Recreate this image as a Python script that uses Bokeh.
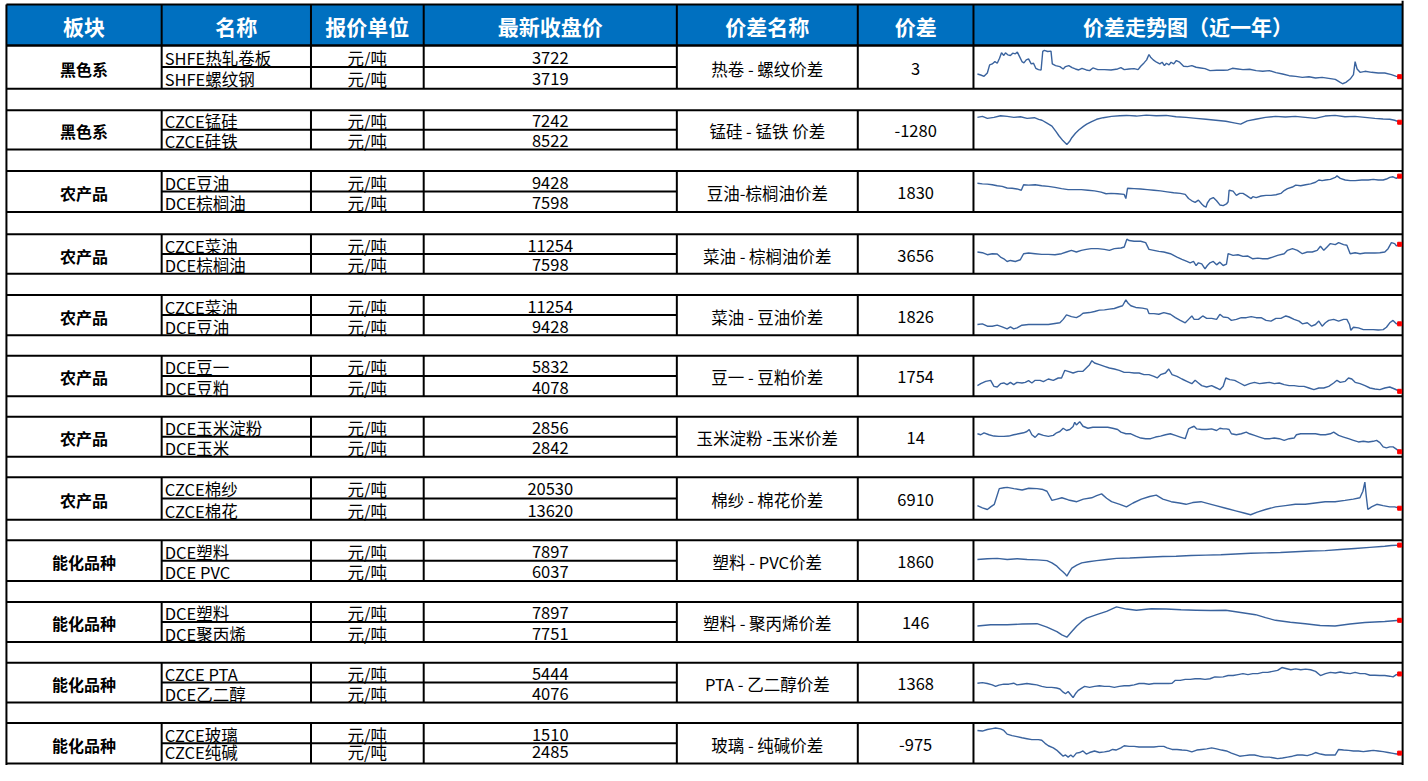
from bokeh.plotting import figure
from bokeh.models import Range1d, ColumnDataSource
from bokeh.core.properties import value
from bokeh.embed import file_html
from bokeh.resources import INLINE

# ---------------- data ----------------
headers = ["板块", "名称", "报价单位", "最新收盘价", "价差名称", "价差", "价差走势图（近一年）"]
sectors = ["黑色系", "黑色系", "农产品", "农产品", "农产品", "农产品", "农产品", "农产品",
           "能化品种", "能化品种", "能化品种", "能化品种"]
leg1_names = ["SHFE热轧卷板", "CZCE锰硅", "DCE豆油", "CZCE菜油", "CZCE菜油", "DCE豆一",
              "DCE玉米淀粉", "CZCE棉纱", "DCE塑料", "DCE塑料", "CZCE PTA", "CZCE玻璃"]
leg2_names = ["SHFE螺纹钢", "CZCE硅铁", "DCE棕榈油", "DCE棕榈油", "DCE豆油", "DCE豆粕",
              "DCE玉米", "CZCE棉花", "DCE PVC", "DCE聚丙烯", "DCE乙二醇", "CZCE纯碱"]
unit = "元/吨"
leg1_close = [3722, 7242, 9428, 11254, 11254, 5832, 2856, 20530, 7897, 7897, 5444, 1510]
leg2_close = [3719, 8522, 7598, 7598, 9428, 4078, 2842, 13620, 6037, 7751, 4076, 2485]
spread_names = ["热卷 - 螺纹价差", "锰硅 - 锰铁 价差", "豆油-棕榈油价差", "菜油 - 棕榈油价差",
                "菜油 - 豆油价差", "豆一 - 豆粕价差", "玉米淀粉 -玉米价差", "棉纱 - 棉花价差",
                "塑料 - PVC价差", "塑料 - 聚丙烯价差", "PTA - 乙二醇价差", "玻璃 - 纯碱价差"]
spreads = [3, -1280, 1830, 3656, 1826, 1754, 14, 6910, 1860, 146, 1368, -975]

# sparkline readings (time position, relative level) for each spread
trend_hc_rb = [(55,45),(65,42),(75,38),(85,48),(92,72),(100,75),(108,82),(115,77),(122,92),(128,108),(135,100),(140,108),(147,102),(155,100),(162,107),(170,105),(176,110),(182,98),(190,82),(196,78),(203,87),(210,90),(218,75),(225,77),(232,62),(240,58),(248,57),(253,112),(258,115),(268,112),(278,113),(282,75),(292,70),(305,67),(315,60),(322,67),(332,70),(342,64),(352,60),(362,57),(372,62),(385,57),(395,55),(405,63),(420,58),(440,58),(460,57),(480,60),(490,64),(500,58),(515,60),(530,61),(542,58),(550,68),(560,78),(568,87),(575,103),(580,95),(588,87),(598,80),(608,75),(615,80),(622,70),(628,77),(636,72),(642,80),(650,75),(658,85),(668,80),(680,68),(692,67),(705,70),(718,65),(732,63),(745,61),(760,55),(780,56),(800,56),(815,57),(828,62),(845,60),(860,58),(880,59),(900,55),(920,53),(940,55),(960,49),(980,45),(1000,40),(1020,38),(1040,35),(1060,37),(1080,33),(1100,35),(1120,32),(1140,29),(1155,20),(1162,16),(1172,20),(1185,30),(1195,43),(1200,82),(1206,60),(1215,50),(1230,53),(1250,50),(1270,48),(1290,48),(1310,43),(1325,38),(1335,37)]
trend_sm_sf = [(60,99),(75,102),(90,96),(110,99),(130,104),(150,102),(170,99),(190,101),(210,96),(232,98),(245,93),(255,90),(270,81),(285,72),(298,54),(306,42),(318,27),(330,15),(338,24),(345,36),(356,50),(366,60),(380,71),(390,78),(405,86),(420,93),(440,98),(465,102),(490,104),(510,105),(540,103),(570,106),(600,104),(630,105),(660,101),(690,99),(720,96),(750,93),(780,90),(810,87),(835,82),(855,78),(875,88),(900,93),(930,99),(960,102),(990,100),(1020,102),(1050,99),(1080,96),(1110,103),(1140,105),(1170,101),(1200,102),(1230,99),(1260,96),(1285,94),(1305,93),(1320,90),(1335,84)]
trend_y_p = [(55,90),(70,88),(85,87),(100,85),(115,82),(130,80),(145,75),(160,74),(175,72),(188,68),(195,85),(210,84),(230,85),(250,82),(270,80),(290,77),(310,73),(330,70),(350,70),(370,70),(390,68),(410,66),(430,62),(445,57),(460,58),(480,57),(500,55),(505,42),(510,74),(530,73),(550,72),(570,70),(590,68),(610,66),(630,63),(650,60),(670,58),(685,55),(695,42),(705,35),(715,30),(725,37),(735,25),(742,18),(748,15),(752,28),(760,40),(770,45),(780,35),(790,22),(800,20),(810,25),(815,32),(818,68),(830,65),(840,52),(850,58),(860,58),(870,52),(880,45),(885,42),(890,48),(900,45),(915,50),(930,52),(945,52),(960,54),(975,58),(985,67),(995,73),(1010,78),(1020,84),(1035,82),(1050,85),(1065,88),(1080,93),(1090,100),(1100,98),(1110,100),(1125,102),(1140,108),(1145,113),(1155,105),(1170,100),(1185,98),(1200,98),(1220,100),(1240,100),(1255,102),(1270,100),(1285,100),(1295,103),(1305,108),(1315,110),(1325,105),(1335,112)]
trend_oi_p = [(55,70),(70,68),(85,62),(100,65),(115,64),(125,55),(135,50),(145,42),(155,45),(170,42),(185,47),(195,65),(210,67),(230,65),(250,63),(270,63),(290,62),(310,65),(325,70),(340,75),(355,70),(370,75),(385,78),(400,80),(420,80),(440,78),(455,75),(470,80),(490,82),(500,85),(508,108),(515,104),(530,102),(550,102),(565,98),(575,78),(590,75),(605,72),(620,70),(640,65),(660,55),(675,48),(690,42),(700,38),(710,42),(718,30),(725,38),(735,35),(745,20),(752,30),(760,38),(770,42),(780,32),(790,40),(800,30),(810,34),(815,65),(830,60),(845,62),(860,57),(875,58),(890,50),(905,52),(920,50),(935,50),(950,55),(965,60),(985,65),(995,75),(1010,80),(1025,75),(1040,65),(1055,70),(1070,70),(1085,75),(1095,87),(1105,75),(1115,85),(1125,95),(1140,92),(1150,98),(1165,92),(1175,90),(1185,65),(1200,68),(1215,65),(1230,67),(1245,67),(1260,67),(1275,68),(1290,70),(1300,80),(1310,98),(1320,95),(1325,88),(1335,93)]
trend_oi_y = [(55,35),(70,37),(85,30),(100,30),(115,33),(130,28),(145,22),(155,28),(165,22),(175,25),(190,33),(210,35),(230,35),(250,35),(270,35),(290,38),(305,40),(315,50),(325,63),(340,58),(355,55),(365,60),(375,68),(395,70),(410,73),(425,77),(440,78),(455,80),(470,82),(485,87),(495,90),(505,107),(512,97),(520,90),(535,85),(555,83),(570,80),(575,67),(590,67),(605,65),(620,70),(640,65),(655,55),(670,47),(685,40),(695,50),(705,60),(712,50),(725,50),(738,60),(750,53),(765,53),(780,50),(790,65),(800,57),(815,55),(825,47),(840,50),(855,55),(870,55),(885,58),(900,55),(915,55),(930,47),(945,45),(960,53),(975,53),(990,60),(1000,57),(1015,50),(1030,45),(1040,37),(1055,40),(1068,30),(1080,35),(1090,45),(1100,30),(1110,40),(1120,47),(1135,50),(1150,45),(1165,50),(1175,50),(1183,35),(1187,18),(1195,27),(1210,25),(1225,20),(1240,20),(1255,20),(1270,19),(1285,20),(1295,27),(1305,40),(1315,47),(1325,37),(1335,37)]
trend_a_m = [(55,32),(65,38),(80,45),(95,48),(105,30),(115,28),(125,38),(135,40),(145,35),(155,42),(165,35),(175,42),(190,40),(200,42),(210,47),(220,40),(230,48),(245,48),(255,44),(270,52),(285,48),(300,55),(310,55),(320,78),(330,75),(345,70),(360,75),(375,75),(385,85),(395,95),(402,107),(410,100),(425,95),(440,90),(455,85),(470,82),(485,78),(500,72),(515,72),(530,70),(545,70),(560,65),(575,65),(590,60),(600,55),(610,65),(625,70),(635,82),(645,65),(660,60),(675,52),(690,45),(705,38),(715,48),(725,40),(735,32),(750,28),(765,32),(780,25),(790,20),(800,30),(808,55),(820,50),(835,48),(850,40),(865,32),(880,38),(895,42),(910,38),(925,40),(940,42),(955,38),(970,40),(985,35),(1000,32),(1015,32),(1030,30),(1045,30),(1060,25),(1075,20),(1090,25),(1105,25),(1120,30),(1135,40),(1145,48),(1155,42),(1170,45),(1180,55),(1190,52),(1200,42),(1215,38),(1230,32),(1245,25),(1260,22),(1275,20),(1290,25),(1305,28),(1320,22),(1335,15)]
trend_cs_c = [(55,75),(65,72),(75,78),(90,72),(105,68),(120,67),(135,67),(150,68),(165,72),(180,75),(195,78),(205,82),(212,88),(220,72),(230,64),(240,75),(255,70),(270,67),(285,70),(295,78),(305,82),(315,92),(325,85),(335,88),(345,97),(350,110),(355,102),(365,112),(375,98),(390,92),(405,95),(420,95),(435,95),(450,95),(465,92),(480,88),(490,80),(505,75),(520,75),(535,68),(550,62),(565,60),(580,60),(595,65),(610,68),(625,72),(640,75),(655,70),(670,65),(685,60),(690,75),(695,90),(705,95),(712,98),(720,90),(735,88),(750,88),(765,90),(780,85),(790,92),(800,90),(810,90),(818,88),(825,75),(840,72),(855,75),(870,80),(880,75),(895,70),(910,65),(925,60),(940,60),(955,62),(970,60),(985,55),(1000,60),(1015,62),(1022,72),(1035,75),(1050,75),(1065,75),(1080,75),(1095,72),(1110,72),(1125,75),(1135,80),(1150,70),(1165,65),(1180,60),(1195,55),(1210,50),(1225,52),(1240,50),(1255,52),(1265,55),(1275,48),(1285,35),(1295,32),(1305,35),(1315,35),(1325,28),(1335,20)]
trend_cy_cf = [(60,57),(75,52),(90,48),(100,54),(111,60),(126,96),(140,98),(150,99),(170,96),(195,93),(215,97),(240,96),(258,94),(270,90),(285,69),(300,72),(315,75),(335,70),(360,66),(380,72),(405,75),(420,80),(435,84),(450,74),(465,66),(490,60),(510,54),(530,63),(555,72),(580,78),(600,81),(620,72),(645,66),(670,63),(690,60),(710,64),(735,66),(760,61),(780,57),(810,51),(840,45),(865,40),(885,36),(905,42),(930,48),(960,54),(990,57),(1020,60),(1050,60),(1080,63),(1110,66),(1140,66),(1170,69),(1195,72),(1215,75),(1224,90),(1230,111),(1234,80),(1239,48),(1250,54),(1266,60),(1285,57),(1305,54),(1320,54),(1335,51)]
trend_l_v = [(60,63),(90,65),(120,66),(150,63),(180,65),(210,63),(240,62),(270,60),(285,54),(300,45),(310,36),(318,30),(325,24),(330,18),(338,30),(345,40),(360,48),(375,54),(395,57),(420,60),(450,63),(480,66),(520,67),(570,69),(620,71),(660,72),(705,74),(750,75),(795,76),(840,78),(885,80),(930,81),(975,82),(1020,84),(1065,86),(1110,87),(1155,90),(1200,93),(1245,96),(1290,99),(1310,101),(1335,102)]
trend_l_pp = [(60,45),(100,48),(150,48),(195,50),(240,51),(270,42),(300,30),(315,21),(330,15),(345,30),(360,45),(375,57),(390,66),(420,75),(450,84),(480,96),(510,90),(540,87),(585,91),(630,90),(675,88),(720,87),(765,86),(810,87),(855,81),(900,75),(930,67),(960,60),(1005,55),(1050,51),(1095,46),(1140,45),(1185,50),(1230,54),(1290,57),(1335,60)]
trend_ta_eg = [(55,58),(70,60),(85,57),(100,53),(110,48),(120,52),(135,55),(150,55),(165,58),(175,53),(190,55),(205,57),(220,55),(235,53),(250,48),(265,45),(280,45),(295,43),(305,40),(315,30),(322,25),(330,32),(338,22),(345,13),(352,25),(360,35),(370,42),(380,48),(395,45),(410,48),(425,50),(440,48),(455,48),(470,45),(485,48),(500,50),(515,50),(530,53),(545,57),(560,57),(575,55),(590,57),(605,57),(620,57),(635,57),(645,58),(655,67),(670,67),(685,70),(700,70),(715,72),(730,72),(745,70),(760,72),(775,78),(790,77),(800,78),(815,82),(830,82),(845,85),(860,88),(875,85),(890,88),(905,88),(920,92),(935,92),(950,95),(965,98),(978,107),(990,104),(1005,100),(1020,103),(1035,100),(1050,102),(1065,100),(1080,95),(1095,82),(1110,88),(1125,92),(1140,90),(1155,93),(1170,90),(1185,88),(1200,92),(1215,88),(1230,88),(1245,83),(1260,83),(1275,82),(1290,82),(1305,80),(1315,78),(1325,85),(1335,87)]
trend_fg_sa = [(55,107),(70,105),(85,110),(100,113),(110,115),(125,112),(135,107),(145,95),(160,90),(175,87),(190,83),(205,80),(220,77),(240,77),(250,75),(260,65),(270,57),(285,50),(295,43),(305,33),(315,23),(322,27),(330,20),(338,27),(345,20),(355,33),(365,35),(375,40),(385,30),(395,35),(410,40),(425,35),(440,37),(455,40),(465,45),(475,43),(490,50),(500,57),(515,55),(530,55),(545,53),(560,53),(575,53),(590,53),(605,55),(620,55),(630,50),(645,45),(660,45),(675,43),(690,42),(705,37),(720,43),(735,45),(750,47),(765,50),(780,47),(795,43),(810,40),(825,33),(840,27),(850,23),(865,25),(880,27),(895,27),(910,23),(925,20),(940,20),(955,17),(965,15),(980,17),(995,20),(1010,23),(1025,27),(1040,27),(1055,25),(1070,30),(1080,35),(1095,30),(1110,27),(1125,27),(1140,27),(1150,45),(1165,43),(1180,42),(1195,40),(1210,40),(1225,38),(1240,40),(1255,42),(1270,40),(1285,38),(1300,35),(1315,32),(1325,30),(1335,33)]
trends = [trend_hc_rb, trend_sm_sf, trend_y_p, trend_oi_p, trend_oi_y, trend_a_m,
          trend_cs_c, trend_cy_cf, trend_l_v, trend_l_pp, trend_ta_eg, trend_fg_sa]

# ---------------- layout (reference pixel space) ----------------
FX0, FX1 = 0, 1428
FY0, FY1 = 781, 0
COLS = [6, 163, 314, 428, 684, 867, 984, 1418]
HEAD_TOP, HEAD_BOT = 4, 46
TOPS = [46, 112, 174, 238.7, 300.7, 362.7, 425, 486.7, 551, 614, 676, 737.7]
BOTS = [90, 152, 216, 279, 341.7, 404, 465.7, 530, 592.7, 655, 716.7, 779]
SPK_X0, SPK_X1, SPK_PAD = 988, 1415, 5
FONT = value("Noto Sans CJK SC")
LINE_BLUE = "#3A639E"

p = figure(width=1412, height=765, x_range=Range1d(FX0, FX1),
           y_range=Range1d(FY0, FY1), output_backend="svg", toolbar_location=None,
           x_axis_type=None, y_axis_type=None, min_border=0)
p.grid.visible = False
p.outline_line_color = None
p.background_fill_color = "white"
p.border_fill_color = "white"

# header band
p.quad(left=[COLS[0]], right=[COLS[-1]], top=[HEAD_TOP], bottom=[HEAD_BOT],
       fill_color="#0070C0", line_color=None)

# grid lines
x0s, y0s, x1s, y1s = [], [], [], []
def seg(a, b, c, d):
    x0s.append(a); y0s.append(b); x1s.append(c); y1s.append(d)
seg(COLS[0], HEAD_TOP, COLS[-1], HEAD_TOP)
seg(COLS[0], HEAD_BOT, COLS[-1], HEAD_BOT)
for c in COLS[1:-1]:
    seg(c, HEAD_TOP, c, HEAD_BOT)
for t, b in zip(TOPS, BOTS):
    seg(COLS[0], t, COLS[-1], t)
    seg(COLS[0], b, COLS[-1], b)
    m = (t + b) / 2
    seg(COLS[1], m, COLS[4], m)
    for c in COLS[1:-1]:
        seg(c, t, c, b)
seg(COLS[0], HEAD_TOP, COLS[0], FY0)
seg(COLS[-1], FY1, COLS[-1], FY0)
p.segment(x0=x0s, y0=y0s, x1=x1s, y1=y1s, line_color="black", line_width=2)

# header texts
centers = [(COLS[i] + COLS[i + 1]) / 2 for i in range(len(COLS) - 1)]
p.text(x=centers, y=[(HEAD_TOP + HEAD_BOT) / 2 + 1] * len(headers), text=headers,
       text_color="white", text_font=FONT, text_font_size="21px", text_font_style="bold",
       text_align="center", text_baseline="middle")

mids = [(t + b) / 2 for t, b in zip(TOPS, BOTS)]
gc = [m + 1.5 for m in mids]
r1 = [(t + m) / 2 + 1.5 for t, m in zip(TOPS, mids)]
r2 = [(m + b) / 2 + 1.5 for m, b in zip(mids, BOTS)]
r2[-1] -= 2.5   # keep the last row's text inside the picture
n = len(sectors)

p.text(x=[centers[0]] * n, y=gc, text=sectors, text_color="black", text_font=FONT,
       text_font_size="16px", text_font_style="bold", text_align="center", text_baseline="middle")
body = dict(text_color="black", text_font=FONT, text_font_size="16.5px", text_baseline="middle")
p.text(x=[COLS[1] + 3] * n, y=r1, text=leg1_names, text_align="left", **body)
p.text(x=[COLS[1] + 3] * n, y=r2, text=leg2_names, text_align="left", **body)
p.text(x=[centers[2]] * n, y=r1, text=[unit] * n, text_align="center", **body)
p.text(x=[centers[2]] * n, y=r2, text=[unit] * n, text_align="center", **body)
p.text(x=[centers[3]] * n, y=r1, text=[str(v) for v in leg1_close], text_align="center", **body)
p.text(x=[centers[3]] * n, y=r2, text=[str(v) for v in leg2_close], text_align="center", **body)
p.text(x=[centers[4]] * n, y=gc, text=spread_names, text_align="center", **body)
p.text(x=[centers[5]] * n, y=gc, text=[str(v) for v in spreads], text_align="center", **body)

# sparklines, each on its own scale fitted into its cell
def fx(x):
    return (x - FX0) / (FX1 - FX0)
def fy(y):
    return (FY0 - y) / (FY0 - FY1)

for i, series in enumerate(trends):
    t = [a for a, _ in series]
    v = [b for _, b in series]
    fa, fb = fx(SPK_X0), fx(SPK_X1)
    xspan = (max(t) - min(t)) / (fb - fa)
    xs = min(t) - fa * xspan
    p.extra_x_ranges[f"sx{i}"] = Range1d(xs, xs + xspan)
    lo, hi = fy(BOTS[i] - SPK_PAD), fy(TOPS[i] + SPK_PAD)
    yspan = (max(v) - min(v)) / (hi - lo)
    ys = min(v) - lo * yspan
    p.extra_y_ranges[f"sy{i}"] = Range1d(ys, ys + yspan)
    src = ColumnDataSource(dict(t=t, v=v))
    p.line("t", "v", source=src, x_range_name=f"sx{i}", y_range_name=f"sy{i}",
           line_color=LINE_BLUE, line_width=1.4)
    p.scatter([t[-1]], [v[-1]], marker="square", size=4, fill_color="red", line_color="red",
              x_range_name=f"sx{i}", y_range_name=f"sy{i}")

open("out.html", "w").write(file_html(p, INLINE))
